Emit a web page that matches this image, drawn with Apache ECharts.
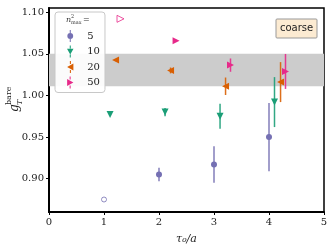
<!DOCTYPE html>
<html><head><meta charset="utf-8">
<script src="https://cdn.jsdelivr.net/npm/echarts@6/dist/echarts.min.js"></script>
<style>html,body{margin:0;padding:0;background:#fff}#c{width:333px;height:251px}</style>
</head><body><div id="c"></div>
<script>
// ---- data ----
var xTicks = [0, 1, 2, 3, 4, 5];
var yTicks = [0.90, 0.95, 1.00, 1.05, 1.10];
var band = [1.011, 1.050];
var names = ['5', '10', '20', '50'];
var x5 = [2.00, 3.00, 4.00], y5 = [0.905, 0.917, 0.950], e5 = [0.008, 0.022, 0.041];
var x10 = [1.11, 2.11, 3.11, 4.10], y10 = [0.977, 0.980, 0.975, 0.992], e10 = [0.0015, 0.005, 0.015, 0.030];
var x20 = [1.21, 2.21, 3.21, 4.21], y20 = [1.0424, 1.030, 1.011, 1.016], e20 = [0.0012, 0.0035, 0.0105, 0.024];
var x50 = [2.31, 3.30, 4.30], y50 = [1.0656, 1.0364, 1.0288], e50 = [0.0012, 0.008, 0.021];
var openX5 = [1.00], openY5 = [0.875];
var openX50 = [1.30], openY50 = [1.092];

var colors = ['#7570b3', '#1b9e77', '#d95f02', '#e7298a'];
var groups = [[x5, y5, e5], [x10, y10, e10], [x20, y20, e20], [x50, y50, e50]];
var syms = ['circle', 'triangle', 'triangle', 'triangle'];
var rots = [0, 180, 90, -90];
var sizes = [6, 7, 7, 7];
var bar = 'M4.4,0h1.2v3.5h-1.2z M4.4,10.5h1.2v3.5h-1.2z ';
var icons = [
  'path://' + bar + 'M1.6,7 a3.4,3.4 0 1,0 6.8,0 a3.4,3.4 0 1,0 -6.8,0 z',
  'path://' + bar + 'M1.2,3.8 L8.8,3.8 L5,10.5 z',
  'path://' + bar + 'M1.2,7 L8.5,3 L8.5,11 z',
  'path://' + bar + 'M8.8,7 L1.5,11 L1.5,3 z'
];

function zip(xs, ys) { return xs.map(function (x, i) { return [x, ys[i]]; }); }
function zip3(xs, ys, es) { return xs.map(function (x, i) { return [x, ys[i], es[i]]; }); }

var series = [];
series.push({
  type: 'scatter', data: [], z: 0, silent: true,
  markArea: { silent: true, itemStyle: { color: '#cccccc' }, data: [[{ yAxis: band[0] }, { yAxis: band[1] }]] }
});
groups.forEach(function (g, k) {
  var col = colors[k];
  series.push({
    type: 'custom', z: 2, silent: true,
    data: zip3(g[0], g[1], g[2]),
    renderItem: function (params, api) {
      var x = api.value(0), y = api.value(1), e = api.value(2);
      var p1 = api.coord([x, y - e]), p2 = api.coord([x, y + e]);
      return { type: 'line', shape: { x1: p1[0], y1: p1[1], x2: p2[0], y2: p2[1] },
        style: { stroke: col, lineWidth: 1.5, opacity: 0.9 } };
    }
  });
  series.push({
    type: 'scatter', name: names[k], z: 3,
    data: zip(g[0], g[1]),
    symbol: syms[k], symbolRotate: rots[k], symbolSize: sizes[k],
    itemStyle: { color: col, opacity: 1 }
  });
});
series.push({ type: 'scatter', z: 3, data: zip(openX5, openY5), symbol: 'circle', symbolSize: 5,
  itemStyle: { color: '#fff', borderColor: colors[0], borderWidth: 1 } });
series.push({ type: 'scatter', z: 3, data: zip(openX50, openY50), symbol: 'triangle', symbolRotate: -90, symbolSize: 7,
  itemStyle: { color: '#fff', borderColor: colors[3], borderWidth: 1 } });

var serif = 'DejaVu Serif';
var chart = echarts.init(document.getElementById('c'), null, { renderer: 'canvas' });
chart.setOption({
  animation: false,
  grid: { left: 49, right: 9, top: 8, bottom: 39, show: true, borderColor: '#000', borderWidth: 1.5, backgroundColor: 'transparent' },
  xAxis: {
    type: 'value', min: 0, max: 5, interval: 1,
    axisLine: { show: true, lineStyle: { color: '#000', width: 2 } },
    axisTick: { show: true, length: 3, lineStyle: { color: '#000', width: 1 } },
    axisLabel: { fontFamily: serif, fontSize: 10, color: '#222', margin: 5,
      formatter: function (v) { return xTicks.indexOf(v) >= 0 ? String(v) : ''; } },
    splitLine: { show: false },
    name: 'τ₀/a', nameLocation: 'middle', nameGap: 22,
    nameTextStyle: { fontFamily: serif, fontStyle: 'italic', fontSize: 11, color: '#222' }
  },
  yAxis: {
    type: 'value', min: 0.86, max: 1.105,
    axisLine: { show: true, lineStyle: { color: '#000', width: 2 } },
    axisTick: { show: true, length: 3, customValues: yTicks, lineStyle: { color: '#000', width: 1 } },
    axisLabel: { fontFamily: serif, fontSize: 10, color: '#222', margin: 5, customValues: yTicks,
      formatter: function (v) { return v.toFixed(2); } },
    splitLine: { show: false }
  },
  legend: {
    orient: 'vertical', left: 55, top: 12,
    padding: [18, 5, 4, 12],
    itemWidth: 10, itemHeight: 12, itemGap: 3.5,
    backgroundColor: 'rgba(255,255,255,0.92)', borderColor: '#c8c8c8', borderWidth: 1, borderRadius: 3,
    data: names.map(function (n, k) { return { name: n, icon: icons[k], itemStyle: { color: colors[k] } }; }),
    textStyle: { fontFamily: serif, fontSize: 10, color: '#222', padding: [0, 0, 0, 7] },
    selectedMode: false
  },
  graphic: [
    { type: 'text', x: 66, y: 16, z: 100, style: { text: 'n', font: 'italic 8px "DejaVu Serif"', fill: '#333' } },
    { type: 'text', x: 71, y: 14, z: 100, style: { text: '2', font: '5px "DejaVu Serif"', fill: '#333' } },
    { type: 'text', x: 71, y: 20, z: 100, style: { text: 'max', font: '5px "DejaVu Serif"', fill: '#333' } },
    { type: 'text', x: 83, y: 16, z: 100, style: { text: '=', font: '8px "DejaVu Serif"', fill: '#333' } },
    { type: 'group', x: 9, y: 112, rotation: Math.PI / 2, z: 100, children: [
      { type: 'text', x: 0, y: 0, style: { text: 'g', font: 'italic 12px "DejaVu Serif"', fill: '#222' } },
      { type: 'text', x: 7, y: 7, style: { text: 'T', font: 'italic 8px "DejaVu Serif"', fill: '#222' } },
      { type: 'text', x: 7, y: -4, style: { text: 'bare', font: '8px "DejaVu Serif"', fill: '#222' } }
    ] },
    { type: 'group', x: 276, y: 19, z: 100, children: [
      { type: 'rect', shape: { x: 0, y: 0, width: 41, height: 19, r: 1 },
        style: { fill: '#fcebd2', stroke: '#999', lineWidth: 1 } },
      { type: 'text', x: 20.5, y: 9.5, style: { text: 'coarse', font: '10px "DejaVu Sans"', fill: '#222', align: 'center', verticalAlign: 'middle' } }
    ] }
  ],
  series: series
});
</script></body></html>
